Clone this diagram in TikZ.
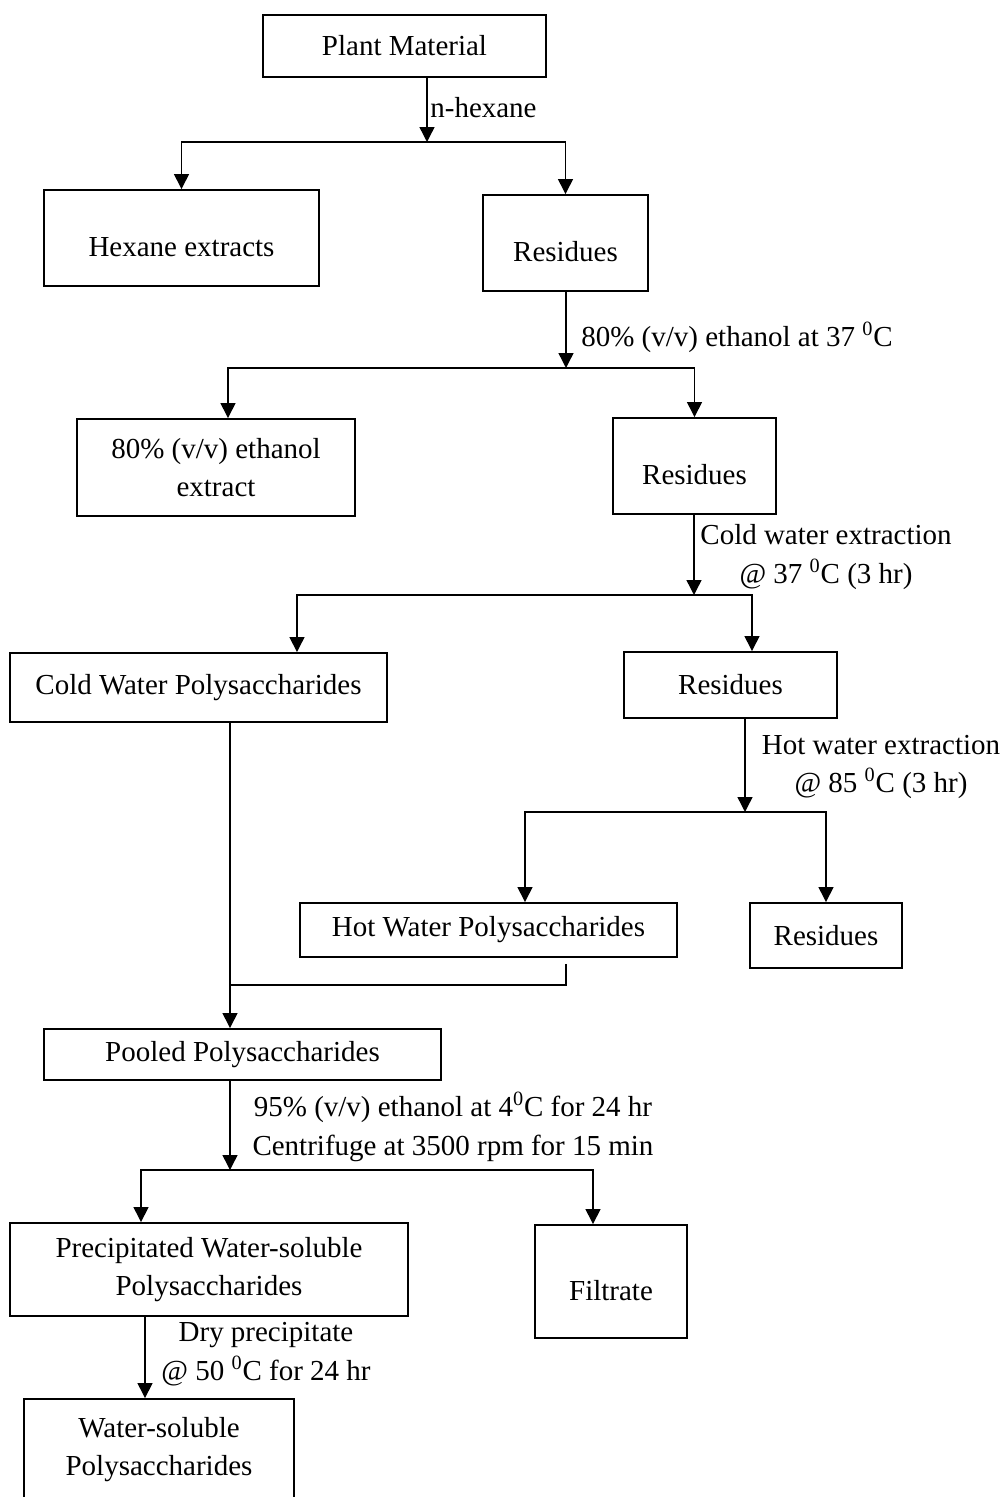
\documentclass[tikz,border=0pt]{standalone}
\usepackage{fontspec}
\setmainfont{Liberation Serif}
\usepackage{tikz}
\usetikzlibrary{arrows.meta, positioning}
\tikzset{proc box/.style={draw, line width=1.1pt, inner sep=0pt, align=center, font=\fontsize{16.5}{22}\selectfont}}
\tikzset{low text/.style={text height=25pt, text depth=3.5pt}}
\tikzset{step label/.style={inner sep=0pt, align=center, font=\fontsize{16.5}{22}\selectfont}}
\tikzset{flow/.style={line width=0.8pt, -{Triangle[length=8.5pt,width=8.5pt]}}}

\begin{document}
\begin{tikzpicture}[x=0.02cm, y=-0.02cm]
			\useasboundingbox (0,0) rectangle (1006,1497);
			\node[proc box, minimum width=5.66cm, minimum height=1.24cm] (q0) at (404.5,46) {Plant Material};
			\node[proc box, low text, minimum width=5.5cm, minimum height=1.92cm] (q1) at (181.5,238) {Hexane extracts};
			\node[proc box, low text, minimum width=3.3cm, minimum height=1.92cm] (q2) at (565.5,243) {Residues};
			\node[proc box, minimum width=5.56cm, minimum height=1.94cm] (q3) at (216,467.5) {80\% (v/v) ethanol\\extract};
			\node[proc box, low text, minimum width=3.26cm, minimum height=1.92cm] (q4) at (694.5,466) {Residues};
			\node[proc box, minimum width=7.54cm, minimum height=1.38cm] (q5) at (198.5,687.5) {Cold Water Polysaccharides};
			\node[proc box, minimum width=4.26cm, minimum height=1.32cm] (q6) at (730.5,685) {Residues};
			\node[proc box, minimum width=7.54cm, minimum height=1.08cm] (q7) at (488.5,930) {Hot Water Polysaccharides};
			\node[proc box, minimum width=3.04cm, minimum height=1.3cm] (q8) at (826,935.5) {Residues};
			\node[proc box, minimum width=7.94cm, minimum height=1.02cm] (q9) at (242.5,1054.5) {Pooled Polysaccharides};
			\node[proc box, minimum width=7.96cm, minimum height=1.86cm] (q10) at (209,1269.5) {Precipitated Water-soluble\\Polysaccharides};
			\node[proc box, low text, minimum width=3.04cm, minimum height=2.26cm] (q11) at (611,1281.5) {Filtrate};
			\node[proc box, minimum width=5.4cm, minimum height=2.02cm] (q12) at (159,1449.5) {Water-soluble\\Polysaccharides};

			\node[step label, anchor=west] (l0) at (430,108) {n-hexane};
			\node[step label, anchor=west] (l1) at (581,337) {80\% (v/v) ethanol at 37 \textsuperscript{0}C};
			\node[step label] (l2) at (826,557) {Cold water extraction\\@ 37 \textsuperscript{0}C (3 hr)};
			\node[step label] (l3) at (881,767) {Hot water extraction\\@ 85 \textsuperscript{0}C (3 hr)};
			\node[step label] (l4) at (453,1127) {95\% (v/v) ethanol at 4\textsuperscript{0}C for 24 hr\\Centrifuge at 3500 rpm for 15 min};
			\node[step label] (l5) at (266,1354) {Dry precipitate\\@ 50 \textsuperscript{0}C for 24 hr};

			\coordinate (s0) at (427,142);
			\coordinate (s1) at (566,368);
			\coordinate (s2) at (694,595);
			\coordinate (s3) at (745,812);
			\coordinate (s4) at (230,1170);
			\coordinate (j0) at (230,985);
			\coordinate (j1) at (566,985);

			\draw[flow] (q0.south -| s0) -- (s0);
			\draw[flow] (s0) -| (q1);
			\draw[flow] (s0) -| (q2);
			\draw[flow] (q2.south -| s1) -- (s1);
			\draw[flow] (s1) -| ([xshift=0.24cm]q3.north);
			\draw[flow] (s1) -| (q4);
			\draw[flow] (q4.south -| s2) -- (s2);
			\draw[flow] (s2) -| ([xshift=1.97cm]q5.north);
			\draw[flow] (s2) -| ([xshift=0.43cm]q6.north);
			\draw[flow] (q6.south -| s3) -- (s3);
			\draw[flow] (s3) -| ([xshift=0.73cm]q7.north);
			\draw[flow] (s3) -| (q8);
			\draw[flow] (q5.south -| j0) -- (q9.north -| j0);
			\draw[line width=0.8pt, shorten <=0.12cm] (q7.south -| j1) -- (j1) -- (j0);
			\draw[flow] (q9.south -| s4) -- (s4);
			\draw[flow] (s4) -| ([xshift=-1.36cm]q10.north);
			\draw[flow] (s4) -| ([xshift=-0.36cm]q11.north);
			\draw[flow] ([xshift=-1.28cm]q10.south) -- ([xshift=-1.28cm]q10.south |- q12.north);
		\end{tikzpicture}
\end{document}
